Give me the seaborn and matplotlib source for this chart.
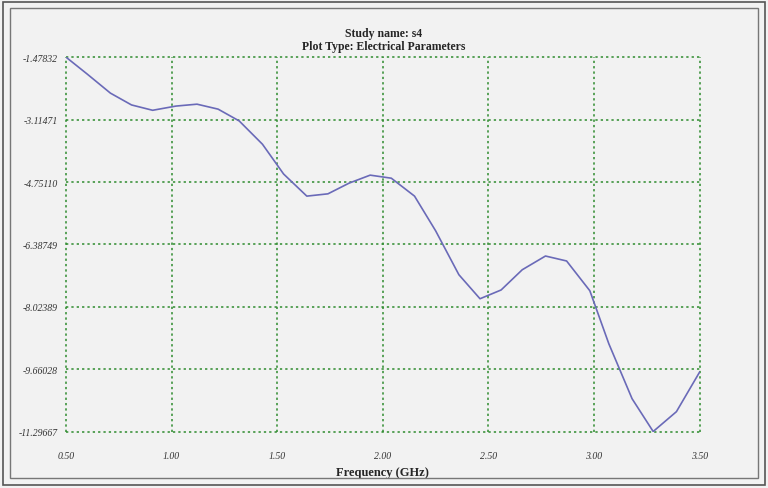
import numpy as np
import pandas as pd
import matplotlib
matplotlib.use("Agg")
import matplotlib.pyplot as plt
import seaborn as sns
from matplotlib.patches import Rectangle

freq = [0.50, 0.60, 0.71, 0.81, 0.91, 1.02, 1.12, 1.22, 1.32, 1.43,
        1.53, 1.64, 1.74, 1.84, 1.94, 2.04, 2.15, 2.25, 2.36, 2.46,
        2.56, 2.66, 2.77, 2.87, 2.98, 3.07, 3.18, 3.28, 3.39, 3.50]
value = [-1.478, -1.92, -2.42, -2.73, -2.87, -2.76, -2.71, -2.84, -3.15, -3.76,
         -4.54, -5.12, -5.06, -4.78, -4.57, -4.65, -5.12, -6.03, -7.18, -7.81,
         -7.58, -7.05, -6.69, -6.82, -7.60, -8.99, -10.43, -11.29, -10.77, -9.73]
yticks = [-1.47832, -3.11471, -4.75110, -6.38749, -8.02389, -9.66028, -11.29667]
xticks = [0.5, 1.0, 1.5, 2.0, 2.5, 3.0, 3.5]

sns.set_theme(style="white")
plt.rcParams['font.family'] = ['Liberation Serif', 'DejaVu Serif']

df = pd.DataFrame({"freq": freq, "value": value})
fig = plt.figure(figsize=(7.68, 4.89), dpi=100)
fig.patch.set_facecolor("#f2f2f2")
# double frame around figure
fig.patches.append(Rectangle((0.004, 0.006), 0.992, 0.988, transform=fig.transFigure,
                             fill=False, edgecolor="#555555", lw=1.2))
fig.patches.append(Rectangle((0.013, 0.02), 0.974, 0.962, transform=fig.transFigure,
                             fill=False, edgecolor="#777777", lw=1.0))

ax = fig.add_axes([0.086, 0.115, 0.825, 0.766])
ax.set_facecolor("#f2f2f2")
sns.lineplot(data=df, x="freq", y="value", ax=ax, color="#6a6ab8", lw=1.2, zorder=3)
ax.set_xlim(0.5, 3.5)
ax.set_ylim(yticks[-1], yticks[0])
ax.set_xticks(xticks)
ax.set_xticklabels([f"{t:.2f}" for t in xticks], style="italic", fontsize=7, color="#333333")
ax.set_yticks(yticks)
ax.set_yticklabels([f"{t:.5f}" for t in yticks], style="italic", fontsize=7, color="#333333")
ax.tick_params(axis="x", pad=14, length=0)
ax.tick_params(axis="y", pad=6, length=0)
ax.grid(True, color="#2e8b2e", linestyle=(0, (1.5, 2)), lw=1.1)
for gl in ax.get_xgridlines() + ax.get_ygridlines():
    gl.set_clip_on(False)
for s in ax.spines.values():
    s.set_visible(False)
ax.set_xlabel("Frequency (GHz)", fontweight="bold", fontsize=9, labelpad=4)
ax.set_ylabel("")
fig.text(0.5, 0.925, "Study name: s4", ha="center", fontweight="bold", fontsize=8.5)
fig.text(0.5, 0.898, "Plot Type: Electrical Parameters", ha="center", fontweight="bold", fontsize=8.5)

fig.savefig("out.png", dpi=100, facecolor=fig.get_facecolor())
